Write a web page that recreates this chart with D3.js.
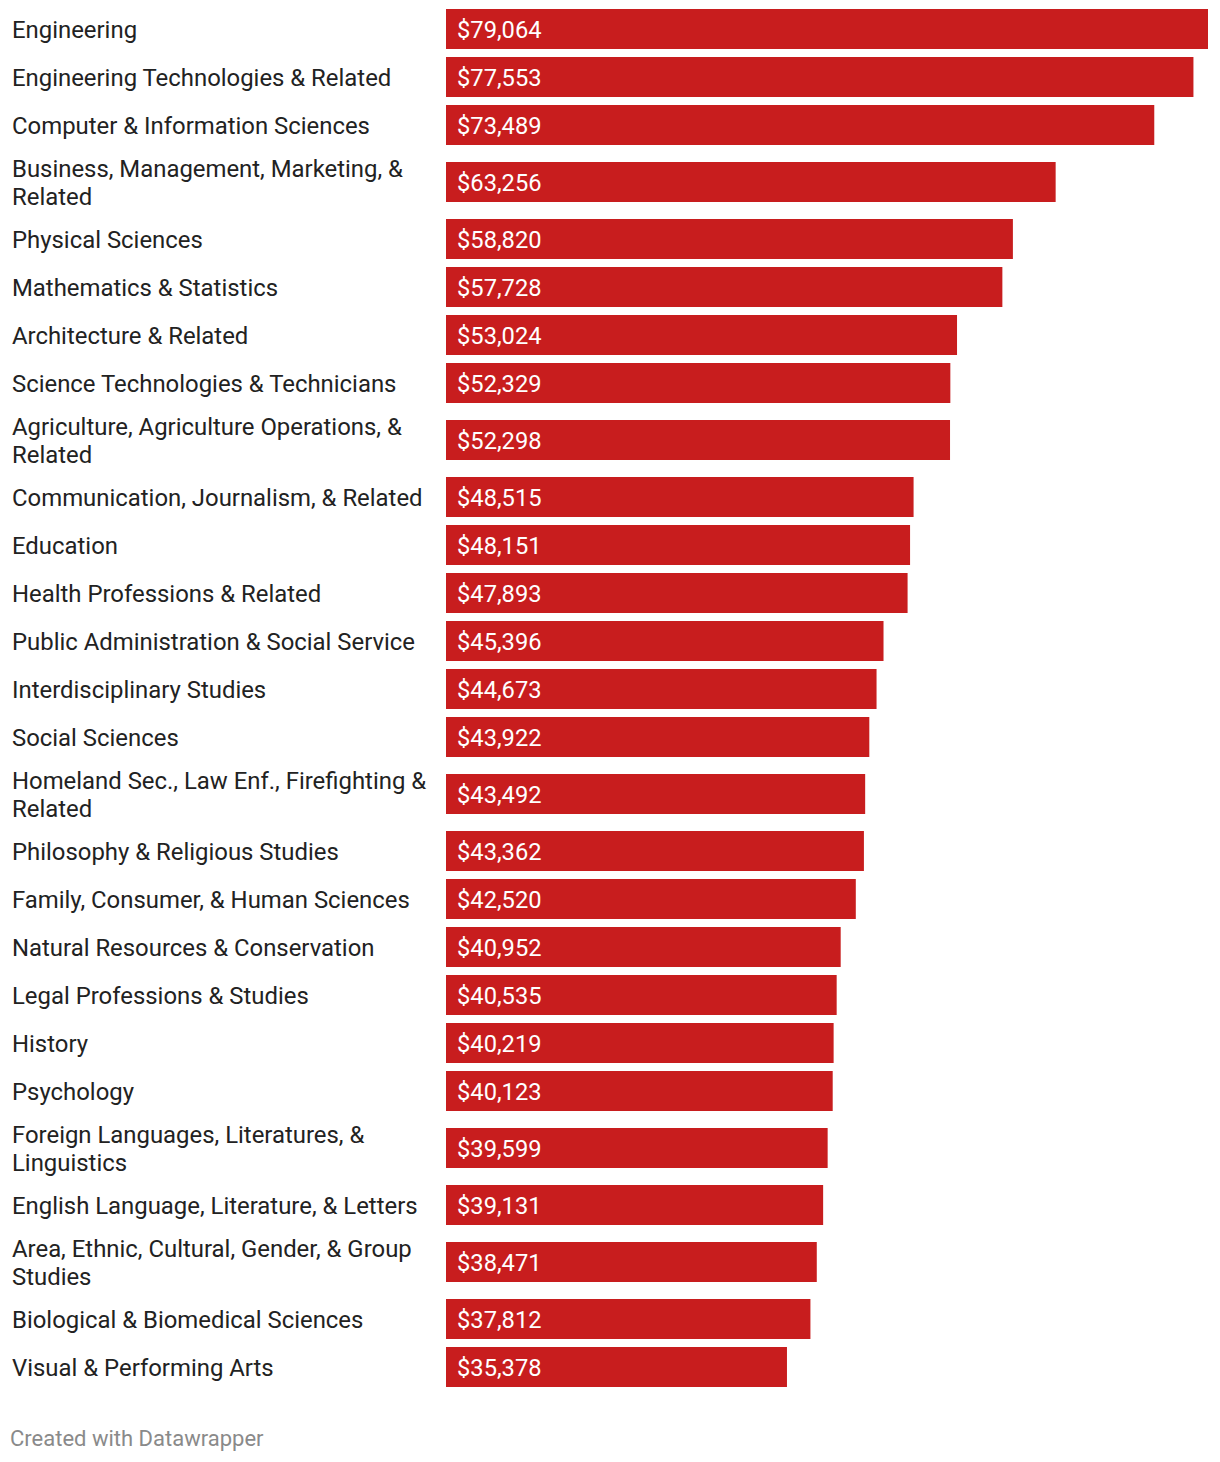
<!DOCTYPE html>
<html>
<head>
<meta charset="utf-8">
<script src="https://cdn.jsdelivr.net/npm/d3@7/dist/d3.min.js"></script>
<style>
  html, body { margin: 0; padding: 0; background: #fff; }
  svg { display: block; font-family: Roboto, "Noto Sans", sans-serif; }
</style>
</head>
<body>
<script>
// ---- Data ----
const categories = [
  ["Engineering"],
  ["Engineering Technologies & Related"],
  ["Computer & Information Sciences"],
  ["Business, Management, Marketing, &", "Related"],
  ["Physical Sciences"],
  ["Mathematics & Statistics"],
  ["Architecture & Related"],
  ["Science Technologies & Technicians"],
  ["Agriculture, Agriculture Operations, &", "Related"],
  ["Communication, Journalism, & Related"],
  ["Education"],
  ["Health Professions & Related"],
  ["Public Administration & Social Service"],
  ["Interdisciplinary Studies"],
  ["Social Sciences"],
  ["Homeland Sec., Law Enf., Firefighting &", "Related"],
  ["Philosophy & Religious Studies"],
  ["Family, Consumer, & Human Sciences"],
  ["Natural Resources & Conservation"],
  ["Legal Professions & Studies"],
  ["History"],
  ["Psychology"],
  ["Foreign Languages, Literatures, &", "Linguistics"],
  ["English Language, Literature, & Letters"],
  ["Area, Ethnic, Cultural, Gender, & Group", "Studies"],
  ["Biological & Biomedical Sciences"],
  ["Visual & Performing Arts"]
];
const salaries = [79064, 77553, 73489, 63256, 58820, 57728, 53024, 52329, 52298,
  48515, 48151, 47893, 45396, 44673, 43922, 43492, 43362, 42520, 40952, 40535,
  40219, 40123, 39599, 39131, 38471, 37812, 35378];
const footerText = "Created with Datawrapper";

// ---- Layout ----
const W = 1220, H = 1462;
const barLeft = 446, barRight = 1208;
const barH = 40, singleRow = 48, doubleRow = 66, top0 = 5;

const svg = d3.select("body").append("svg").attr("width", W).attr("height", H);

const x = d3.scaleLinear().domain([0, d3.max(salaries)]).range([barLeft, barRight]);

// row positions from line counts
let acc = top0;
const rows = categories.map((lines, i) => {
  const h = lines.length > 1 ? doubleRow : singleRow;
  const r = { lines, value: salaries[i], top: acc, h, cy: acc + h / 2 };
  acc += h;
  return r;
});

const fmt = d3.format("$,");

const g = svg.append("g");
const row = g.selectAll("g.row").data(rows).join("g").attr("class", "row");

row.append("rect")
  .attr("x", x(0))
  .attr("y", d => d.cy - barH / 2)
  .attr("width", d => x(d.value) - x(0))
  .attr("height", barH)
  .attr("fill", "#c81d1e");

row.append("text")
  .attr("x", x(0) + 11)
  .attr("y", d => d.cy)
  .attr("dy", "0.36em")
  .attr("fill", "#fff")
  .style("font-size", "23.7px")
  .text(d => fmt(d.value));

const lineH = 28;
row.append("text")
  .attr("fill", "#222")
  .style("font-size", "23.9px")
  .selectAll("tspan")
  .data(d => d.lines.map((t, k) => ({ t, k, n: d.lines.length, cy: d.cy })))
  .join("tspan")
  .attr("x", 12)
  .attr("y", d => d.cy + (d.k - (d.n - 1) / 2) * lineH)
  .attr("dy", "0.36em")
  .text(d => d.t);

svg.append("text")
  .attr("x", 10)
  .attr("y", 1446)
  .attr("fill", "#8a8a8a")
  .style("font-size", "22px")
  .text(footerText);
</script>
</body>
</html>
